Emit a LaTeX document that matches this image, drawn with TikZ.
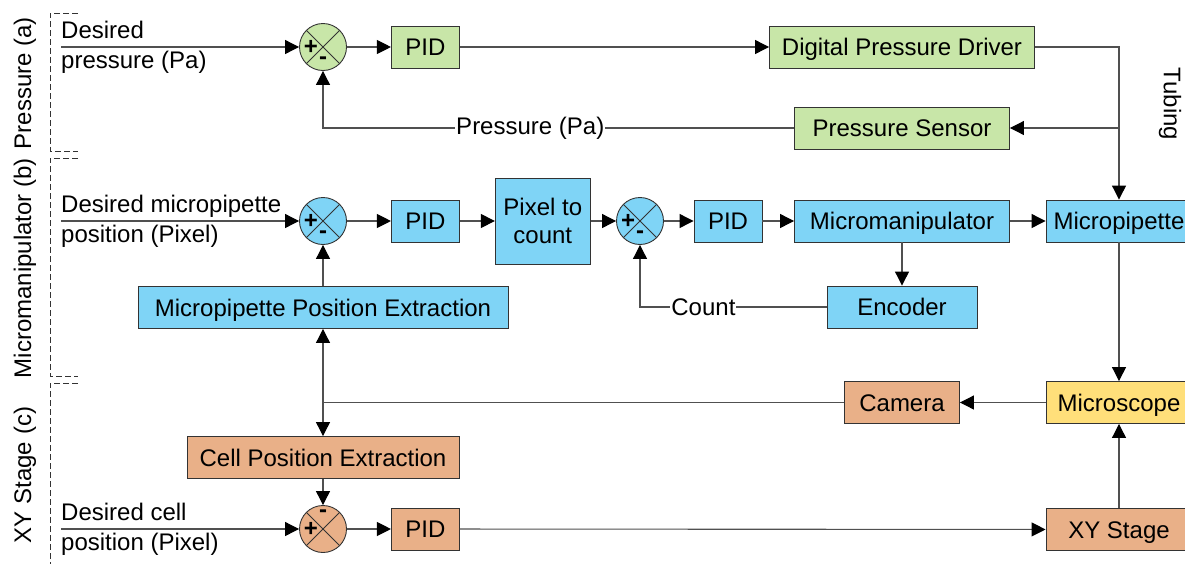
\documentclass[tikz,border=0pt]{standalone}
\usepackage{fontspec}
\setmainfont{Liberation Sans}
\usetikzlibrary{arrows.meta,calc,positioning}
\definecolor{ctrlgreen}{HTML}{C8E6A8}
\definecolor{ctrlblue}{HTML}{7FD4F6}
\definecolor{ctrlorange}{HTML}{E9B088}
\definecolor{ctrlyellow}{HTML}{FFDF7A}
\definecolor{wiregray}{HTML}{505050}

\begin{document}
\begin{tikzpicture}[
    x=1pt,y=1pt,
    font=\fontsize{24}{28}\selectfont,
    block/.style={draw=black!80,line width=0.9pt,minimum height=42pt,inner sep=4pt,text height=17pt,text depth=0pt},
    sumjunc/.style={circle,draw=black!80,line width=0.9pt,minimum size=47pt,inner sep=0pt,
      path picture={\draw[black!80,line width=0.8pt]
        (path picture bounding box.north west)--(path picture bounding box.south east)
        (path picture bounding box.north east)--(path picture bounding box.south west);}},
    sign/.style={font=\fontsize{24}{24}\selectfont\bfseries,inner sep=0pt},
    wire/.style={draw=wiregray,line width=1.1pt},
    flow/.style={wire,-{Triangle[length=14pt,width=14pt,color=black]}},
    tag/.style={fill=white,inner sep=1pt},
    infeed/.style={anchor=west,align=left,inner sep=0pt,font=\fontsize{24}{30}\selectfont},
    lane/.style={draw=black!80,line width=0.8pt,dash pattern=on 6pt off 3pt}
  ]
    \useasboundingbox (0,0) rectangle (1185,-563);

    % swim lanes
    \draw[lane] (78,-13) -| (50,-151) -- (78,-151);
    \draw[lane] (78,-158) -| (50,-376) -- (78,-376);
    \draw[lane] (78,-383) -| (50,-570);
    \node[rotate=90] (laneA) at (25,-83) {Pressure (a)};
    \node[rotate=90] (laneB) at (25,-268) {Micromanipulator (b)};
    \node[rotate=90] (laneC) at (25,-475) {XY Stage (c)};
    \node[rotate=-90] (tubing) at (1170,-104) {Tubing};

    % pressure loop
    \coordinate (inA) at (61,-47);
    \node[infeed] (desA) at (inA) {Desired\\pressure (Pa)};
    \node[sumjunc,fill=ctrlgreen] (sumA) at (323,-47) {};
    \node[sign] (sumAp) at ([xshift=-12pt]sumA.center) {+};
    \node[sign] (sumAm) at ([yshift=-14pt]sumA.center) {-};
    \node[block,fill=ctrlgreen,minimum width=68pt,right=44pt of sumA] (pidA) {PID};
    \node[block,fill=ctrlgreen,minimum width=265pt] (driver) at (902,-47) {Digital Pressure Driver};
    \node[block,fill=ctrlgreen,minimum width=215pt] (sensor) at (902,-128) {Pressure Sensor};

    % micromanipulator loop
    \coordinate (inB) at (61,-221);
    \node[infeed] (desB) at (inB) {Desired micropipette\\position (Pixel)};
    \node[sumjunc,fill=ctrlblue] (sumB) at (323,-221) {};
    \node[sign] (sumBp) at ([xshift=-12pt]sumB.center) {+};
    \node[sign] (sumBm) at ([yshift=-14pt]sumB.center) {-};
    \node[block,fill=ctrlblue,minimum width=68pt,right=44pt of sumB] (pidB) {PID};
    \node[block,fill=ctrlblue,minimum width=95pt,minimum height=86pt,align=center,
      text height={},text depth={},right=35pt of pidB] (pix) {Pixel to\\count};
    \node[sumjunc,fill=ctrlblue] (sumC) at (640,-221) {};
    \node[sign] (sumCp) at ([xshift=-12pt]sumC.center) {+};
    \node[sign] (sumCm) at ([yshift=-14pt]sumC.center) {-};
    \node[block,fill=ctrlblue,minimum width=68pt] (pidC) at (728,-221) {PID};
    \node[block,fill=ctrlblue,minimum width=215pt] (manip) at (902,-221) {Micromanipulator};
    \node[block,fill=ctrlblue,minimum width=150pt] (encoder) at (902,-307) {Encoder};
    \node[block,fill=ctrlblue,minimum width=146pt] (pipette) at (1119,-221) {Micropipette};
    \node[block,fill=ctrlblue,minimum width=370pt] (mpe) at (323,-307.5) {Micropipette Position Extraction};

    % vision and stage
    \node[block,fill=ctrlyellow,minimum width=146pt] (scope) at (1119,-402.5) {Microscope};
    \node[block,fill=ctrlorange,minimum width=115pt] (camera) at (902,-402.5) {Camera};
    \node[block,fill=ctrlorange,minimum width=272pt] (cpe) at (323,-457.5) {Cell Position Extraction};
    \coordinate (inC) at (61,-529);
    \node[infeed] (desC) at (inC) {Desired cell\\position (Pixel)};
    \node[sumjunc,fill=ctrlorange] (sumD) at (323,-529) {};
    \node[sign] (sumDp) at ([xshift=-12pt]sumD.center) {+};
    \node[sign] (sumDm) at ([yshift=15pt]sumD.center) {-};
    \node[block,fill=ctrlorange,minimum width=68pt,right=44pt of sumD] (pidD) {PID};
    \node[block,fill=ctrlorange,minimum width=146pt] (xy) at (1119,-529.5) {XY Stage};

    % connectors
    \draw[flow] (inA) -- (sumA);
    \draw[flow] (sumA) -- (pidA);
    \draw[flow] (pidA) -- (driver);
    \draw[flow] (driver.east) -| (pipette.north);
    \draw[flow] (sensor.east -| pipette.north) -- (sensor.east);
    \draw[flow] (sensor.west) -- node[tag,pos=0.56] (lblP) {Pressure (Pa)} (sensor.west -| sumA) -- (sumA.south);

    \draw[flow] (inB) -- (sumB);
    \draw[flow] (sumB) -- (pidB);
    \draw[flow] (pidB) -- (pix);
    \draw[flow] (pix) -- (sumC);
    \draw[flow] (sumC) -- (pidC);
    \draw[flow] (pidC) -- (manip);
    \draw[flow] (manip) -- (pipette);
    \draw[flow] (manip) -- (encoder);
    \draw[flow] (encoder.west) -- node[tag,pos=0.66] (lblC) {Count} (encoder.west -| sumC) -- (sumC.south);
    \draw[flow] (mpe) -- (sumB);

    \draw[flow] (pipette) -- (scope);
    \draw[flow] (xy) -- (scope);
    \draw[flow] (scope) -- (camera);
    \coordinate (split) at (camera.west -| mpe.south);
    \draw[wire] (camera.west) -- (split);
    \draw[flow] (split) -- (mpe.south);
    \draw[flow] (split) -- (cpe.north);
    \draw[flow] (cpe) -- (sumD);
    \draw[flow] (inC) -- (sumD);
    \draw[flow] (sumD) -- (pidD);
    \draw[flow] (pidD) -- (xy);
  \end{tikzpicture}
\end{document}
